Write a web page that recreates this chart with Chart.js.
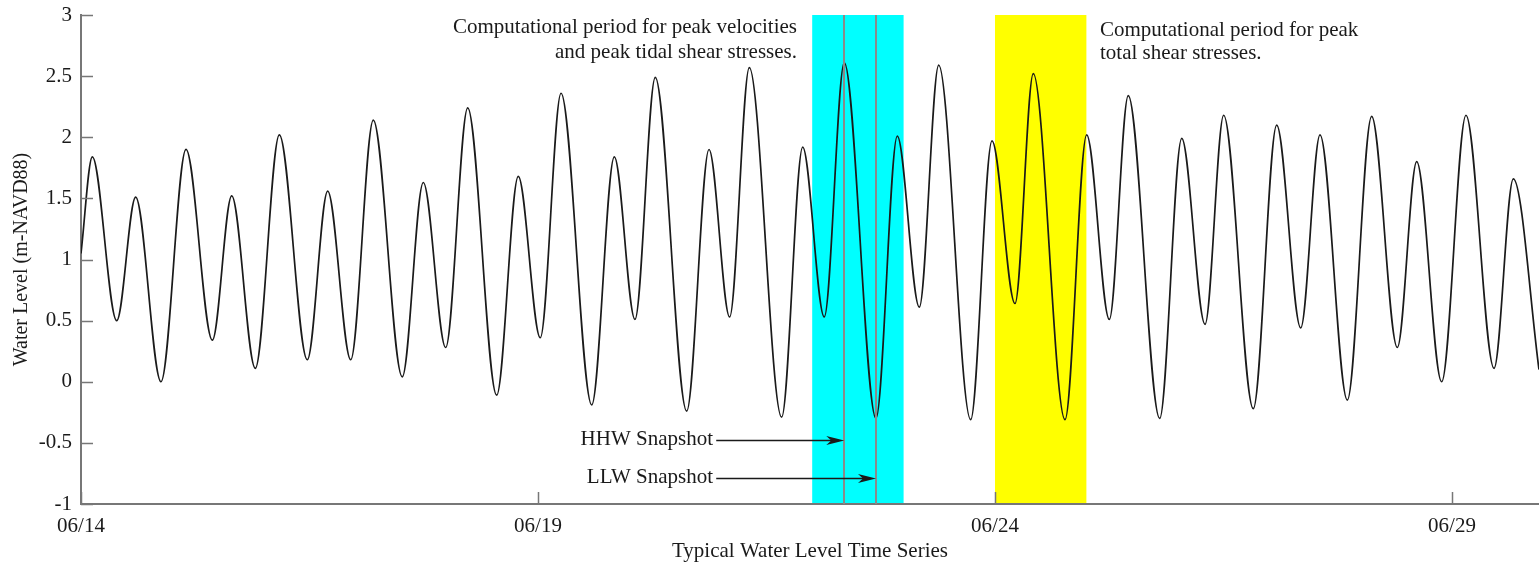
<!DOCTYPE html>
<html>
<head>
<meta charset="utf-8">
<script src="https://cdn.jsdelivr.net/npm/chart.js@4.4.1/dist/chart.umd.min.js"></script>
<style>
html, body { margin: 0; padding: 0; background: #fff; }
#wrap { width: 1539px; height: 566px; }
</style>
</head>
<body>
<div id="wrap"><canvas id="tideChart" width="1539" height="566"></canvas></div>
<script>
// high / low waters, x in days since 06/14 00:00
const tideDays = [0.000, 0.124, 0.391, 0.598, 0.875, 1.149, 1.437, 1.649, 1.907, 2.170, 2.476, 2.699, 2.951,
    3.198, 3.515, 3.745, 3.990, 4.231, 4.548, 4.784, 5.025, 5.252, 5.588, 5.835, 6.061, 6.283, 6.627, 6.871,
    7.097, 7.312, 7.666, 7.896, 8.132, 8.351, 8.698, 8.931, 9.172, 9.384, 9.734, 9.967, 10.219, 10.419, 10.766,
    11.003, 11.251, 11.458, 11.802, 12.043, 12.298, 12.502, 12.826, 13.082, 13.345, 13.556, 13.855, 14.121,
    14.402, 14.614, 14.887, 15.153, 15.460, 15.671, 15.952];
const tideLevels = [1.05, 1.84, 0.50, 1.51, 0.00, 1.90, 0.34, 1.52, 0.11, 2.02, 0.18, 1.56, 0.18,
    2.14, 0.04, 1.63, 0.28, 2.24, -0.11, 1.68, 0.36, 2.36, -0.19, 1.84, 0.51, 2.49, -0.24, 1.90,
    0.53, 2.57, -0.29, 1.92, 0.53, 2.61, -0.30, 2.01, 0.61, 2.59, -0.31, 1.97, 0.64, 2.52, -0.31,
    2.02, 0.51, 2.34, -0.30, 1.99, 0.47, 2.18, -0.22, 2.10, 0.44, 2.02, -0.15,
    2.17, 0.28, 1.80, 0.00, 2.18, 0.11, 1.66, 0.10];
const tickDays = [0, 5, 10, 15];
const tickLabels = ['06/14', '06/19', '06/24', '06/29'];
const velocityWindow = [8, 9];   // cyan band
const shearWindow = [10, 11];    // yellow band
const hhwDay = 8.351;
const llwDay = 8.698;

const FONT = 'Liberation Serif, Times New Roman, serif';
const INK = '#1a1a1a';

function arrow(ctx, x1, x2, y) {
    ctx.beginPath();
    ctx.moveTo(x1, y);
    ctx.lineTo(x2 - 10, y);
    ctx.stroke();
    ctx.beginPath();
    ctx.moveTo(x2, y);
    ctx.lineTo(x2 - 18, y - 4.5);
    ctx.lineTo(x2 - 13, y);
    ctx.lineTo(x2 - 18, y + 4.5);
    ctx.closePath();
    ctx.fill();
}

const overlay = {
    id: 'overlay',
    beforeDatasetsDraw(chart) {
        const { ctx, chartArea: a, scales: { x } } = chart;
        ctx.save();
        ctx.fillStyle = '#00ffff';
        let l = x.getPixelForValue(velocityWindow[0]);
        ctx.fillRect(l, a.top, x.getPixelForValue(velocityWindow[1]) - l, a.bottom - a.top - 1);
        ctx.fillStyle = '#ffff00';
        l = x.getPixelForValue(shearWindow[0]);
        ctx.fillRect(l, a.top, x.getPixelForValue(shearWindow[1]) - l, a.bottom - a.top - 1);
        ctx.restore();
    },
    afterDatasetsDraw(chart) {
        const { ctx, chartArea: a, scales: { x, y } } = chart;
        ctx.save();
        // snapshot markers
        ctx.strokeStyle = '#8a8a8a';
        ctx.lineWidth = 2;
        [hhwDay, llwDay].forEach(d => {
            const px = Math.round(x.getPixelForValue(d));
            ctx.beginPath();
            ctx.moveTo(px, a.top);
            ctx.lineTo(px, a.bottom);
            ctx.stroke();
        });
        // inward tick marks
        ctx.strokeStyle = '#777';
        ctx.lineWidth = 1.5;
        y.ticks.forEach(t => {
            const py = Math.round(y.getPixelForValue(t.value)) + 0.5;
            ctx.beginPath();
            ctx.moveTo(a.left, py);
            ctx.lineTo(a.left + 12, py);
            ctx.stroke();
        });
        x.ticks.forEach(t => {
            const px = Math.round(x.getPixelForValue(t.value)) + 0.5;
            ctx.beginPath();
            ctx.moveTo(px, a.bottom);
            ctx.lineTo(px, a.bottom - 12);
            ctx.stroke();
        });
        // notes
        ctx.fillStyle = INK;
        ctx.font = '21px ' + FONT;
        ctx.textBaseline = 'middle';
        ctx.textAlign = 'right';
        ctx.fillText('Computational period for peak velocities', x.getPixelForValue(7.834), y.getPixelForValue(2.894));
        ctx.fillText('and peak tidal shear stresses.', x.getPixelForValue(7.834), y.getPixelForValue(2.697));
        ctx.fillText('HHW Snapshot', x.getPixelForValue(6.915), y.getPixelForValue(-0.476));
        ctx.fillText('LLW Snapshot', x.getPixelForValue(6.915), y.getPixelForValue(-0.787));
        ctx.textAlign = 'left';
        ctx.fillText('Computational period for peak', x.getPixelForValue(11.149), y.getPixelForValue(2.877));
        ctx.fillText('total shear stresses.', x.getPixelForValue(11.149), y.getPixelForValue(2.689));
        // arrows
        ctx.strokeStyle = INK;
        ctx.lineWidth = 1.3;
        const ax = x.getPixelForValue(6.95);
        arrow(ctx, ax, x.getPixelForValue(hhwDay), Math.round(y.getPixelForValue(-0.476)) + 0.5);
        arrow(ctx, ax, x.getPixelForValue(llwDay), Math.round(y.getPixelForValue(-0.787)) + 0.5);
        ctx.restore();
    }
};

new Chart(document.getElementById('tideChart').getContext('2d'), {
    type: 'line',
    data: {
        datasets: [{
            data: tideDays.map((d, i) => ({ x: d, y: tideLevels[i] })),
            borderColor: INK,
            borderWidth: 1.7,
            pointRadius: 0,
            cubicInterpolationMode: 'monotone',
            fill: false
        }]
    },
    options: {
        responsive: false,
        animation: false,
        devicePixelRatio: 1,
        layout: { padding: { top: 15, right: 0, left: 0, bottom: 0 } },
        plugins: { legend: { display: false }, tooltip: { enabled: false } },
        scales: {
            x: {
                type: 'linear',
                min: 0,
                max: 15.952,
                grid: { display: false, drawTicks: false },
                border: { display: true, color: '#777', width: 2 },
                afterBuildTicks: s => { s.ticks = tickDays.map(v => ({ value: v })); },
                afterFit: s => { s.height = 62; s.paddingLeft = 0; s.paddingRight = 0; },
                ticks: {
                    padding: 10,
                    maxRotation: 0,
                    color: INK,
                    font: { family: FONT, size: 21 },
                    callback: (v, i) => tickLabels[i]
                },
                title: {
                    display: true,
                    text: 'Typical Water Level Time Series',
                    color: INK,
                    font: { family: FONT, size: 21 },
                    padding: { top: 0, bottom: 2 }
                }
            },
            y: {
                min: -1,
                max: 3,
                grid: { display: false, drawTicks: false },
                border: { display: true, color: '#777', width: 2 },
                afterFit: s => { s.width = 81; s.paddingTop = 0; s.paddingBottom = 0; },
                ticks: {
                    stepSize: 0.5,
                    padding: 9,
                    color: INK,
                    font: { family: FONT, size: 21 },
                    callback: v => String(Number(v))
                },
                title: {
                    display: true,
                    text: 'Water Level (m-NAVD88)',
                    color: INK,
                    font: { family: FONT, size: 20 },
                    padding: { top: 10, bottom: 0 }
                }
            }
        }
    },
    plugins: [overlay]
});
</script>
</body>
</html>
